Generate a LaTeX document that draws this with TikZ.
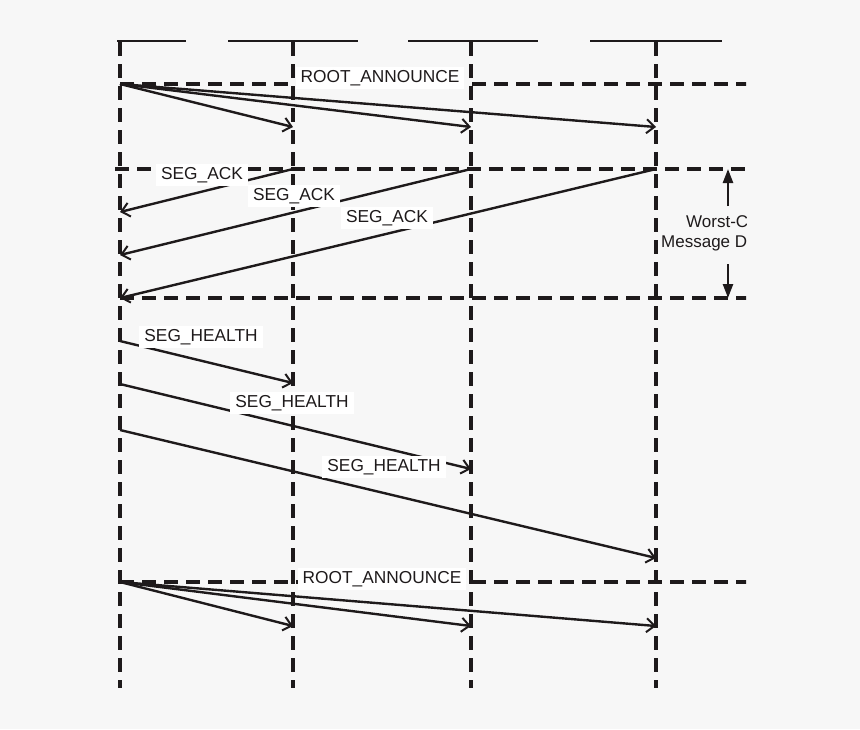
\documentclass[tikz,border=0pt]{standalone}
\usepackage{fontspec}
\setmainfont{Liberation Sans}
\usetikzlibrary{arrows.meta}
\definecolor{bg}{HTML}{F7F7F7}
\definecolor{ink}{HTML}{1E1A1B}
\begin{document}
\begin{tikzpicture}[x=1pt,y=-1pt,
  life/.style={ink,line width=4.6pt,dash pattern=on 14pt off 8pt},
  msg/.style={ink,line width=2.4pt,-{Straight Barb[length=8pt,width=14pt,line width=2pt]}},
  lbl/.style={fill=white,inner xsep=5pt,inner ysep=3pt,font=\fontsize{17.3}{19}\selectfont,text=ink},
  side/.style={font=\fontsize{17}{19}\selectfont,text=ink,anchor=west,inner sep=0pt}]
\fill[bg] (0,0) rectangle (860,729);
\useasboundingbox (0,0) rectangle (860,729);
% top lines
\foreach \a/\b in {117/186,228/358,408/538,590/722} \draw[ink,line width=2.2pt] (\a,41)--(\b,41);
% lifelines
\foreach \x/\n in {120/A,293/B,471/C,656/D} {
  \coordinate (\n t) at (\x,42); \coordinate (\n b) at (\x,688);
  \draw[life] (\n t)--(\n b);}
\begin{scope}
\clip (0,0) rectangle (746,729);
\foreach \y in {84,298,582} \draw[life] (120,\y)--(760,\y);
\draw[life] (115,169)--(760,169);
% labels
\node[lbl] at (380,78) {ROOT\_ANNOUNCE};
\node[lbl] at (382,579) {ROOT\_ANNOUNCE};
\coordinate (r1) at (120,84);
\coordinate (r2) at (120,582);
\foreach \x in {293,471,656} {
  \draw[msg] (r1) -- (\x,127);
  \draw[msg] (r2) -- (\x,626);}
\draw[msg] (293,169) -- (120,212);
\draw[msg] (471,169) -- (120,255);
\draw[msg] (656,169) -- (120,298);
\draw[msg] (120,341) -- (293,383);
\draw[msg] (120,384) -- (471,469);
\draw[msg] (120,430) -- (656,558);
\node[lbl] at (202,175) {SEG\_ACK};
\node[lbl] at (294,196) {SEG\_ACK};
\node[lbl] at (387,218) {SEG\_ACK};
\node[lbl] at (201,337) {SEG\_HEALTH};
\node[lbl] at (292,403) {SEG\_HEALTH};
\node[lbl] at (384,467) {SEG\_HEALTH};
\node[side] (w1) at (686,222) {Worst-Case};
\node[side] (w2) at (661,243) {Message Delay};
\coordinate (u0) at (728,206); \coordinate (u1) at (728,169);
\coordinate (d0) at (728,264); \coordinate (d1) at (728,298);
\draw[ink,line width=2.4pt,-{Triangle[length=14pt,width=10pt]}] (u0)--(u1);
\draw[ink,line width=2.4pt,-{Triangle[length=14pt,width=10pt]}] (d0)--(d1);
\end{scope}
\end{tikzpicture}
\end{document}
